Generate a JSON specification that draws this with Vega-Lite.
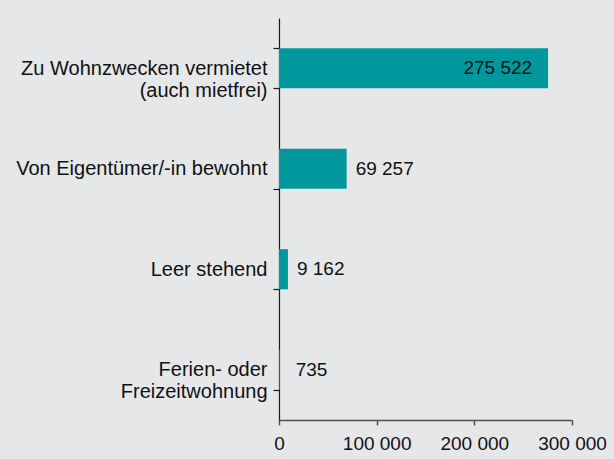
{
  "$schema": "https://vega.github.io/schema/vega-lite/v6.json",
  "autosize": "none",
  "width": 293,
  "height": 402,
  "padding": {"left": 279, "top": 18, "right": 42, "bottom": 39},
  "background": "#e6e7e9",
  "config": {
    "view": {"stroke": null},
    "font": "Liberation Sans",
    "locale": {"number": {"decimal": ",", "thousands": " ", "grouping": [3], "currency": ["", " €"]}}
  },
  "data": {
    "values": [
      {"kategorie": "Zu Wohnzwecken vermietet|(auch mietfrei)", "wert": 275522, "pos": "inside"},
      {"kategorie": "Von Eigentümer/-in bewohnt", "wert": 69257, "pos": "outside"},
      {"kategorie": "Leer stehend", "wert": 9162, "pos": "outside"},
      {"kategorie": "Ferien- oder|Freizeitwohnung", "wert": 735, "pos": "small"}
    ]
  },
  "encoding": {
    "y": {
      "field": "kategorie",
      "type": "nominal",
      "sort": null,
      "scale": {"paddingInner": 0.6, "paddingOuter": 0.3},
      "axis": {
        "title": null,
        "labelExpr": "split(datum.label, '|')",
        "labelFontSize": 20,
        "labelLineHeight": 22,
        "labelLimit": 400,
        "labelColor": "#111111",
        "labelPadding": 6,
        "tickSize": 6,
        "tickBand": "extent",
        "tickColor": "#1a1a1a",
        "domainColor": "#1a1a1a",
        "domainWidth": 1.2,
        "tickWidth": 1.2,
        "grid": false
      }
    },
    "x": {
      "field": "wert",
      "type": "quantitative",
      "scale": {"domain": [0, 300000], "nice": false},
      "axis": {
        "title": null,
        "values": [0, 100000, 200000, 300000],
        "format": ",d",
        "labelFontSize": 19,
        "labelColor": "#111111",
        "labelPadding": 9,
        "tickSize": 5,
        "tickColor": "#505050",
        "domainColor": "#505050",
        "domainWidth": 1.5,
        "tickWidth": 1.5,
        "grid": false,
        "labelFlush": false
      }
    }
  },
  "layer": [
    {"mark": {"type": "bar", "color": "#00989d"}},
    {
      "transform": [{"filter": "datum.pos == 'inside'"}],
      "mark": {"type": "text", "align": "right", "baseline": "middle", "dx": -16, "fontSize": 19, "color": "#111111"},
      "encoding": {"text": {"field": "wert", "type": "quantitative", "format": ",d"}}
    },
    {
      "transform": [{"filter": "datum.pos == 'outside'"}],
      "mark": {"type": "text", "align": "left", "baseline": "middle", "dx": 9, "fontSize": 19, "color": "#111111"},
      "encoding": {"text": {"field": "wert", "type": "quantitative", "format": ",d"}}
    },
    {
      "transform": [{"filter": "datum.pos == 'small'"}],
      "mark": {"type": "text", "align": "left", "baseline": "middle", "dx": 16, "fontSize": 19, "color": "#111111"},
      "encoding": {"text": {"field": "wert", "type": "quantitative", "format": ",d"}}
    }
  ]
}
